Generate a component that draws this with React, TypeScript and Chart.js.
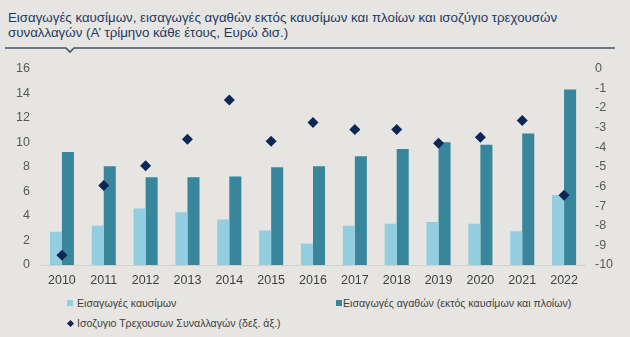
import React, { useEffect, useRef } from "react";
import { Chart, registerables } from "chart.js";

Chart.register(...registerables);

const years = ["2010","2011","2012","2013","2014","2015","2016","2017","2018","2019","2020","2021","2022"];
const fuelImports = [2.7, 3.2, 4.6, 4.3, 3.7, 2.8, 1.75, 3.2, 3.35, 3.5, 3.35, 2.75, 5.7];
const goodsImports = [9.2, 8.05, 7.15, 7.15, 7.2, 7.95, 8.05, 8.85, 9.45, 10.0, 9.8, 10.7, 14.3];
const currentAccount = [-9.5, -5.95, -4.95, -3.6, -1.6, -3.7, -2.75, -3.1, -3.1, -3.8, -3.5, -2.65, -6.45];

const title1 = "Εισαγωγές καυσίμων, εισαγωγές αγαθών εκτός καυσίμων και πλοίων και ισοζύγιο τρεχουσών";
const title2 = "συναλλαγών (Α’ τρίμηνο κάθε έτους, Ευρώ δισ.)";
const labelFuel = "Εισαγωγές καυσίμων";
const labelGoods = "Εισαγωγές αγαθών (εκτός καυσίμων και πλοίων)";
const labelCA = "Ισοζυγιο Τρεχουσων Συναλλαγών (δεξ. άξ.)";

const BG = "#e6e5e1";
const LIGHT = "#93cde0";
const DARK = "#37869c";
const NAVY = "#0c2657";
const FONT = "'Liberation Sans', Arial, sans-serif";

export default function App() {
  const ref = useRef<HTMLCanvasElement>(null);
  useEffect(() => {
    if (!ref.current) return;
    const chart = new Chart(ref.current, {
      type: "bar",
      data: {
        labels: years,
        datasets: [
          {
            type: "line",
            label: labelCA,
            data: currentAccount,
            yAxisID: "y1",
            showLine: false,
            pointStyle: "rectRot",
            pointRadius: 5.5,
            pointBackgroundColor: NAVY,
            pointBorderColor: NAVY,
            pointBorderWidth: 0,
            order: 0,
          } as any,
          {
            label: labelFuel,
            data: fuelImports,
            backgroundColor: LIGHT,
            yAxisID: "y",
            barPercentage: 1,
            categoryPercentage: 0.575,
            order: 1,
          },
          {
            label: labelGoods,
            data: goodsImports,
            backgroundColor: DARK,
            yAxisID: "y",
            barPercentage: 1,
            categoryPercentage: 0.575,
            order: 1,
          },
        ],
      },
      options: {
        animation: false,
        responsive: false,
        maintainAspectRatio: false,
        layout: { autoPadding: false, padding: { top: 0, bottom: 0, left: 0, right: 0 } },
        plugins: { legend: { display: false }, tooltip: { enabled: false } },
        scales: {
          x: {
            grid: { display: true, color: "rgba(0,0,0,0)", drawTicks: false },
            border: { display: true, color: "#d2d1cd", width: 1 },
            ticks: { color: "#404040", font: { family: FONT, size: 12.5 }, padding: 8 },
            afterFit: (s: any) => { s.height = 29; },
          },
          y: {
            position: "left",
            min: 0,
            max: 16,
            grid: { display: false, drawTicks: false },
            border: { display: false },
            ticks: { stepSize: 2, color: "#595959", font: { family: FONT, size: 12.5 }, padding: 11 },
            afterFit: (s: any) => { s.width = 41; },
          },
          y1: {
            position: "right",
            min: -10,
            max: 0,
            grid: { display: false, drawTicks: false },
            border: { display: false },
            ticks: { stepSize: 1, color: "#595959", font: { family: FONT, size: 12.5 }, padding: 10 },
            afterFit: (s: any) => { s.width = 45; },
          },
        },
      },
    });
    return () => chart.destroy();
  }, []);

  return (
    <div style={{ position: "fixed", left: 0, top: 0, width: 630, height: 337, background: BG, overflow: "hidden", fontFamily: FONT }}>
      <div style={{ position: "absolute", left: 8, top: 11, fontSize: 13.3, lineHeight: "14.5px", color: "#1f3864", whiteSpace: "nowrap" }}>
        <div>{title1}</div>
        <div>{title2}</div>
      </div>
      <svg width={630} height={60} style={{ position: "absolute", left: 0, top: 0 }}>
        <polyline points="5,48 66,48 70,52 74,48 615,48" fill="none" stroke="#44546a" strokeWidth={1.6} />
      </svg>
      <canvas ref={ref} width={630} height={244} style={{ position: "absolute", left: 0, top: 50, width: 630, height: 244 }} />
      <div style={{ position: "absolute", left: 67, top: 297, fontSize: 10.6, color: "#404040", whiteSpace: "nowrap", display: "flex", alignItems: "center" }}>
        <span style={{ display: "inline-block", width: 6, height: 6, background: LIGHT, marginRight: 4 }} />
        {labelFuel}
      </div>
      <div style={{ position: "absolute", left: 336, top: 297, fontSize: 10.6, color: "#404040", whiteSpace: "nowrap", display: "flex", alignItems: "center" }}>
        <span style={{ display: "inline-block", width: 6, height: 6, background: DARK, marginRight: 1 }} />
        {labelGoods}
      </div>
      <div style={{ position: "absolute", left: 67, top: 317, fontSize: 10.6, color: "#404040", whiteSpace: "nowrap", display: "flex", alignItems: "center" }}>
        <span style={{ display: "inline-block", width: 5, height: 5, background: NAVY, transform: "rotate(45deg)", marginRight: 4, marginLeft: 1 }} />
        {labelCA}
      </div>
    </div>
  );
}
